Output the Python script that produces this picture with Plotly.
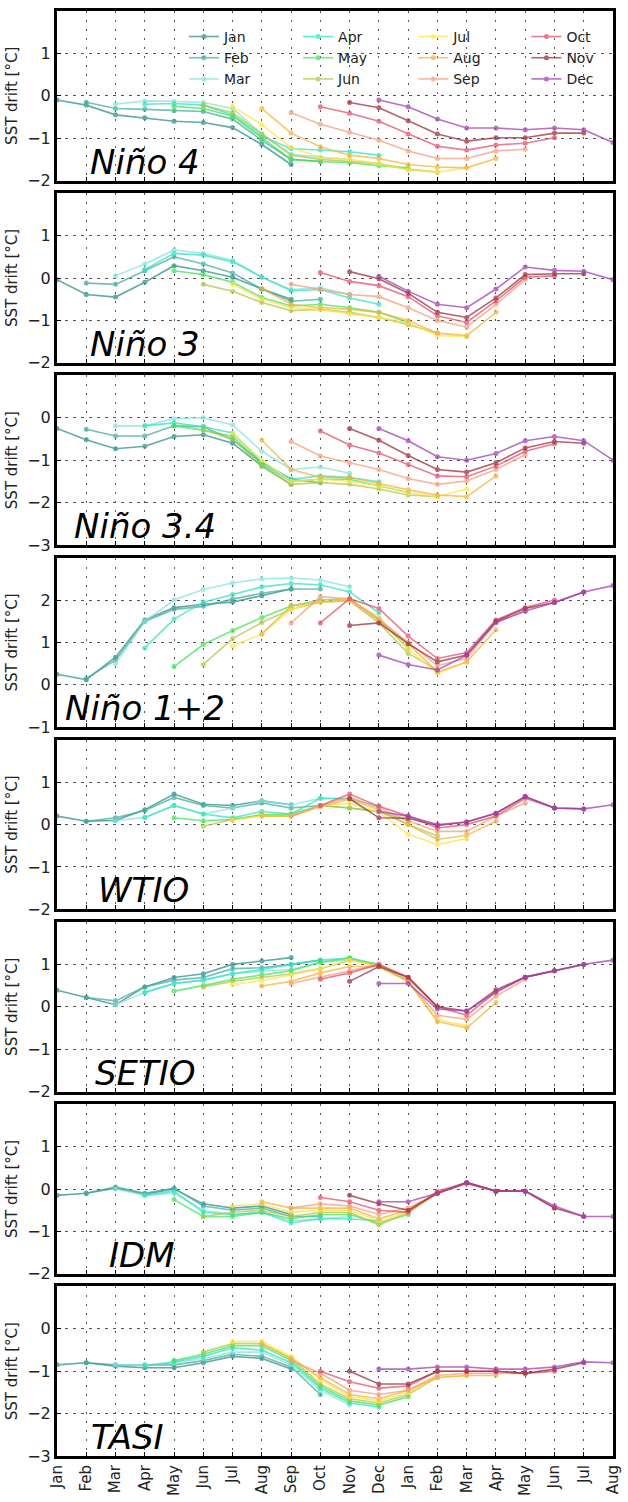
import plotly.graph_objects as go

months = ['Jan', 'Feb', 'Mar', 'Apr', 'May', 'Jun', 'Jul', 'Aug', 'Sep', 'Oct', 'Nov', 'Dec']
x_labels = months + months[:8]
colors = ['#2f8f8c', '#45ab9f', '#86e3da', '#2fe3c4', '#3fe655', '#b3c64a',
          '#ffe34a', '#f3b43c', '#f59e7c', '#e44f6c', '#9c2f3c', '#a03fb5']

panels = ['Niño 4', 'Niño 3', 'Niño 3.4', 'Niño 1+2', 'WTIO', 'SETIO', 'IDM', 'TASI']
y_ranges = [[-2, 2], [-2, 2], [-3, 1], [-1, 3], [-2, 2], [-2, 2], [-2, 2], [-3, 1]]
label_x = [0.055, 0.055, 0.027, 0.011, 0.071, 0.064, 0.09, 0.058]

# each row: drift for one start month, leads 0..8 (starting at that month)
nino4 = [
    [-0.10, -0.22, -0.45, -0.52, -0.60, -0.63, -0.75, -1.15, -1.62],
    [-0.15, -0.30, -0.32, -0.35, -0.37, -0.55, -1.05, -1.50, -1.55],
    [-0.20, -0.12, -0.13, -0.16, -0.30, -0.90, -1.38, -1.45, -1.50],
    [-0.20, -0.18, -0.22, -0.45, -0.95, -1.25, -1.28, -1.32, -1.40],
    [-0.25, -0.30, -0.48, -1.00, -1.50, -1.55, -1.58, -1.65, -1.70],
    [-0.22, -0.40, -0.90, -1.40, -1.50, -1.55, -1.60, -1.73, -1.80],
    [-0.25, -0.68, -1.22, -1.45, -1.50, -1.60, -1.75, -1.80, -1.70],
    [-0.30, -0.88, -1.20, -1.40, -1.48, -1.62, -1.68, -1.70, -1.48],
    [-0.40, -0.67, -0.86, -1.05, -1.30, -1.48, -1.48, -1.30, -1.26],
    [-0.26, -0.41, -0.60, -0.90, -1.19, -1.28, -1.16, -1.12, -0.99],
    [-0.16, -0.28, -0.59, -0.90, -1.07, -0.99, -0.99, -0.88, -0.88],
    [-0.10, -0.26, -0.55, -0.76, -0.76, -0.80, -0.76, -0.80, -1.10],
]
nino3 = [
    [-0.04, -0.39, -0.45, -0.10, 0.29, 0.17, 0.02, -0.26, -0.50],
    [-0.12, -0.15, 0.17, 0.50, 0.33, 0.12, -0.26, -0.55, -0.50],
    [0.05, 0.33, 0.66, 0.58, 0.42, 0.02, -0.27, -0.23, -0.39],
    [0.20, 0.58, 0.54, 0.38, 0.02, -0.30, -0.27, -0.47, -0.62],
    [0.17, 0.08, -0.10, -0.46, -0.66, -0.62, -0.70, -0.81, -1.05],
    [-0.15, -0.31, -0.58, -0.77, -0.74, -0.81, -0.93, -1.10, -1.30],
    [-0.15, -0.50, -0.70, -0.74, -0.85, -0.93, -1.05, -1.36, -1.38],
    [-0.25, -0.62, -0.70, -0.74, -0.81, -1.00, -1.30, -1.36, -0.81],
    [-0.15, -0.27, -0.39, -0.44, -0.70, -1.00, -1.16, -0.62, -0.04],
    [0.13, -0.08, -0.18, -0.44, -0.89, -1.05, -0.54, 0.02, 0.05],
    [0.15, -0.02, -0.36, -0.81, -0.93, -0.47, 0.08, 0.10, 0.10],
    [0.04, -0.31, -0.62, -0.70, -0.26, 0.26, 0.18, 0.16, -0.04],
]
nino34 = [
    [-0.25, -0.52, -0.73, -0.67, -0.44, -0.40, -0.60, -1.14, -1.57],
    [-0.27, -0.43, -0.43, -0.19, -0.21, -0.52, -1.05, -1.45, -1.53],
    [-0.19, -0.19, -0.02, 0.00, -0.17, -0.79, -1.22, -1.16, -1.31],
    [-0.19, -0.12, -0.21, -0.36, -1.05, -1.45, -1.37, -1.41, -1.51],
    [-0.19, -0.29, -0.44, -1.10, -1.50, -1.45, -1.45, -1.60, -1.76],
    [-0.29, -0.50, -1.14, -1.57, -1.53, -1.57, -1.68, -1.82, -1.86],
    [-0.36, -1.00, -1.50, -1.45, -1.50, -1.60, -1.76, -1.86, -1.68],
    [-0.53, -1.22, -1.40, -1.41, -1.55, -1.70, -1.82, -1.86, -1.37],
    [-0.56, -0.90, -1.06, -1.22, -1.43, -1.57, -1.49, -1.22, -0.87],
    [-0.31, -0.64, -0.83, -1.10, -1.37, -1.39, -1.14, -0.79, -0.61],
    [-0.25, -0.53, -0.89, -1.22, -1.28, -1.06, -0.71, -0.56, -0.60],
    [-0.25, -0.54, -0.92, -1.00, -0.84, -0.54, -0.44, -0.54, -1.00],
]
nino12 = [
    [0.25, 0.12, 0.65, 1.53, 1.82, 1.90, 1.95, 2.10, 2.26],
    [0.15, 0.58, 1.49, 1.78, 1.85, 2.02, 2.16, 2.26, 2.26],
    [0.50, 1.50, 2.00, 2.25, 2.40, 2.50, 2.52, 2.47, 2.31],
    [0.87, 1.55, 1.95, 2.13, 2.31, 2.39, 2.36, 2.19, 1.70],
    [0.43, 0.95, 1.28, 1.59, 1.86, 2.00, 2.03, 1.55, 0.85],
    [0.48, 1.09, 1.47, 1.78, 1.95, 1.98, 1.46, 0.74, 0.35],
    [0.91, 1.20, 1.78, 1.95, 2.00, 1.60, 0.85, 0.27, 0.54],
    [1.20, 1.86, 1.95, 2.00, 1.50, 0.97, 0.30, 0.54, 1.30],
    [1.46, 2.08, 2.03, 1.55, 1.00, 0.45, 0.62, 1.47, 1.74],
    [1.46, 2.03, 1.80, 1.15, 0.62, 0.76, 1.53, 1.82, 2.00],
    [1.40, 1.46, 0.97, 0.54, 0.70, 1.50, 1.80, 1.94, 2.19],
    [0.70, 0.48, 0.35, 0.70, 1.47, 1.74, 1.94, 2.19, 2.34],
]
wtio = [
    [0.20, 0.08, 0.10, 0.35, 0.72, 0.48, 0.45, 0.56, 0.47],
    [0.08, 0.16, 0.33, 0.64, 0.45, 0.39, 0.51, 0.39, 0.45],
    [0.09, 0.17, 0.45, 0.25, 0.39, 0.56, 0.47, 0.62, 0.61],
    [0.17, 0.45, 0.25, 0.16, 0.31, 0.25, 0.62, 0.61, 0.43],
    [0.16, 0.09, 0.12, 0.23, 0.25, 0.45, 0.39, 0.31, 0.09],
    [-0.04, 0.12, 0.23, 0.20, 0.45, 0.39, 0.31, 0.00, -0.27],
    [0.10, 0.20, 0.20, 0.45, 0.50, 0.30, -0.23, -0.47, -0.33],
    [0.20, 0.20, 0.42, 0.60, 0.35, 0.00, -0.35, -0.25, 0.08],
    [0.20, 0.45, 0.65, 0.40, 0.09, -0.16, -0.16, 0.20, 0.51],
    [0.45, 0.72, 0.43, 0.20, -0.08, 0.00, 0.20, 0.62, 0.39],
    [0.61, 0.16, 0.15, -0.02, 0.06, 0.27, 0.66, 0.39, 0.37],
    [0.31, 0.20, 0.00, 0.06, 0.27, 0.66, 0.39, 0.37, 0.47],
]
setio = [
    [0.39, 0.22, 0.05, 0.47, 0.69, 0.78, 1.00, 1.08, 1.16],
    [0.22, 0.14, 0.47, 0.63, 0.69, 0.90, 0.92, 1.00, 1.10],
    [0.05, 0.34, 0.55, 0.63, 0.78, 0.84, 0.88, 1.05, 1.10],
    [0.34, 0.55, 0.63, 0.78, 0.88, 1.00, 1.10, 1.15, 1.00],
    [0.37, 0.50, 0.65, 0.75, 0.85, 1.05, 1.15, 0.95, 0.60],
    [0.47, 0.60, 0.69, 0.78, 0.90, 1.10, 1.00, 0.65, 0.00],
    [0.52, 0.62, 0.75, 0.90, 1.10, 0.95, 0.60, -0.30, -0.45],
    [0.49, 0.60, 0.80, 0.95, 0.95, 0.60, -0.35, -0.50, 0.10],
    [0.55, 0.70, 0.85, 1.00, 0.60, -0.20, -0.30, 0.25, 0.65],
    [0.65, 0.80, 1.00, 0.70, 0.00, -0.20, 0.35, 0.70, 0.85],
    [0.60, 0.95, 0.70, 0.00, -0.10, 0.40, 0.70, 0.85, 1.00],
    [0.55, 0.55, -0.05, -0.10, 0.35, 0.70, 0.85, 1.00, 1.10],
]
idm = [
    [-0.15, -0.10, 0.02, -0.12, 0.00, -0.35, -0.45, -0.40, -0.60],
    [-0.10, 0.05, -0.10, 0.02, -0.40, -0.50, -0.45, -0.65, -0.65],
    [0.00, -0.15, -0.10, -0.50, -0.60, -0.55, -0.75, -0.70, -0.65],
    [-0.15, -0.05, -0.55, -0.60, -0.55, -0.80, -0.70, -0.70, -0.75],
    [-0.25, -0.65, -0.65, -0.55, -0.70, -0.60, -0.60, -0.80, -0.60],
    [-0.65, -0.55, -0.50, -0.65, -0.55, -0.55, -0.85, -0.55, -0.10],
    [-0.40, -0.35, -0.55, -0.50, -0.50, -0.75, -0.55, -0.10, 0.15],
    [-0.30, -0.45, -0.45, -0.45, -0.70, -0.50, -0.10, 0.15, -0.05],
    [-0.45, -0.35, -0.40, -0.60, -0.45, -0.10, 0.12, -0.05, -0.05],
    [-0.20, -0.30, -0.50, -0.55, -0.05, 0.15, -0.05, -0.05, -0.45],
    [-0.15, -0.35, -0.50, -0.10, 0.15, -0.05, -0.05, -0.45, -0.65],
    [-0.30, -0.30, -0.10, 0.15, -0.05, -0.05, -0.40, -0.65, -0.65],
]
tasi = [
    [-0.85, -0.80, -0.88, -0.92, -0.92, -0.80, -0.65, -0.70, -0.95],
    [-0.80, -0.85, -0.85, -0.85, -0.75, -0.60, -0.65, -0.90, -1.55],
    [-0.85, -0.85, -0.80, -0.70, -0.55, -0.55, -0.85, -1.45, -1.80],
    [-0.88, -0.78, -0.65, -0.45, -0.50, -0.80, -1.40, -1.75, -1.85],
    [-0.75, -0.60, -0.40, -0.40, -0.75, -1.35, -1.70, -1.80, -1.60],
    [-0.55, -0.35, -0.35, -0.70, -1.30, -1.65, -1.75, -1.55, -1.15],
    [-0.30, -0.30, -0.65, -1.20, -1.60, -1.70, -1.50, -1.15, -1.10],
    [-0.35, -0.70, -1.15, -1.55, -1.65, -1.45, -1.15, -1.10, -1.10],
    [-0.75, -1.05, -1.45, -1.55, -1.45, -1.10, -1.05, -1.05, -1.05],
    [-1.00, -1.25, -1.40, -1.35, -1.00, -1.00, -1.00, -1.05, -1.00],
    [-1.00, -1.30, -1.30, -1.00, -1.00, -1.00, -1.05, -0.95, -0.80],
    [-0.95, -0.95, -0.90, -0.90, -0.95, -0.95, -0.90, -0.78, -0.80],
]
all_data = [nino4, nino3, nino34, nino12, wtio, setio, idm, tasi]

W, H = 628, 1502
mt, mb, ml, mr = 11, 34, 57, 6
plot_h = H - mt - mb
bottom_px = H - mb
panel_h = 171.0
pitch = (plot_h - panel_h) / 7

fig = go.Figure()
legend_ids = ['legend', 'legend2', 'legend3', 'legend4']
layout = dict(
    width=W, height=H,
    margin=dict(l=ml, r=mr, t=mt, b=mb),
    paper_bgcolor='white', plot_bgcolor='white',
    font=dict(family='DejaVu Sans', color='#222', size=14),
    annotations=[],
)

for p in range(8):
    top = mt + pitch * p
    bot = top + panel_h
    d0 = min(1.0, max(0.0, (bottom_px - bot) / plot_h))
    d1 = min(1.0, max(0.0, (bottom_px - top) / plot_h))
    sfx = '' if p == 0 else str(p + 1)
    xa, ya = 'x' + sfx, 'y' + sfx
    for m in range(12):
        xs = list(range(m, m + 9))
        ys = all_data[p][m]
        fig.add_trace(go.Scatter(
            x=xs, y=ys, xaxis=xa, yaxis=ya, mode='lines+markers',
            name=months[m], legend=legend_ids[m // 3],
            showlegend=(p == 0), opacity=0.75,
            line=dict(color=colors[m], width=1.6),
            marker=dict(color=colors[m], size=5),
        ))
    lo, hi = y_ranges[p]
    layout['xaxis' + sfx] = dict(
        domain=[0, 1], anchor=ya, range=[0, 19],
        tickvals=list(range(20)), ticktext=x_labels,
        showticklabels=(p == 7), tickangle=-90,
        tickfont=dict(size=15, color='#222'),
        ticks='inside', ticklen=4, tickcolor='black',
        showgrid=True, gridcolor='#555', gridwidth=1, griddash='2px,7px',
        showline=True, linecolor='black', linewidth=3, mirror=True,
        zeroline=False,
    )
    layout['yaxis' + sfx] = dict(
        domain=[d0, d1], anchor=xa, range=[lo, hi],
        tickvals=list(range(lo, hi)),
        tickfont=dict(size=16, color='#222'),
        ticks='inside', ticklen=4, tickcolor='black',
        showgrid=True, gridcolor='#555', gridwidth=1, griddash='3px,5px',
        showline=True, linecolor='black', linewidth=3, mirror=True,
        zeroline=False,
        title=dict(text='SST drift [°C]', font=dict(size=15, color='#222'), standoff=6),
    )
    layout['annotations'].append(dict(
        text='<i>' + panels[p] + '</i>', xref=xa + ' domain', yref=ya + ' domain',
        x=label_x[p], y=0, xanchor='left', yanchor='bottom', yshift=-3,
        showarrow=False, font=dict(family='DejaVu Sans', size=34, color='black'),
    ))

leg_x_px = [186, 302, 419, 534]
for i, lid in enumerate(legend_ids):
    layout[lid] = dict(
        x=(leg_x_px[i] - ml) / (W - ml - mr), y=1 - (21 - mt) / plot_h,
        xanchor='left', yanchor='top', orientation='v',
        bgcolor='rgba(0,0,0,0)', borderwidth=0,
        font=dict(size=14, color='#222'), tracegroupgap=0,
    )

fig.update_layout(**layout)
fig.write_html('out.html')
